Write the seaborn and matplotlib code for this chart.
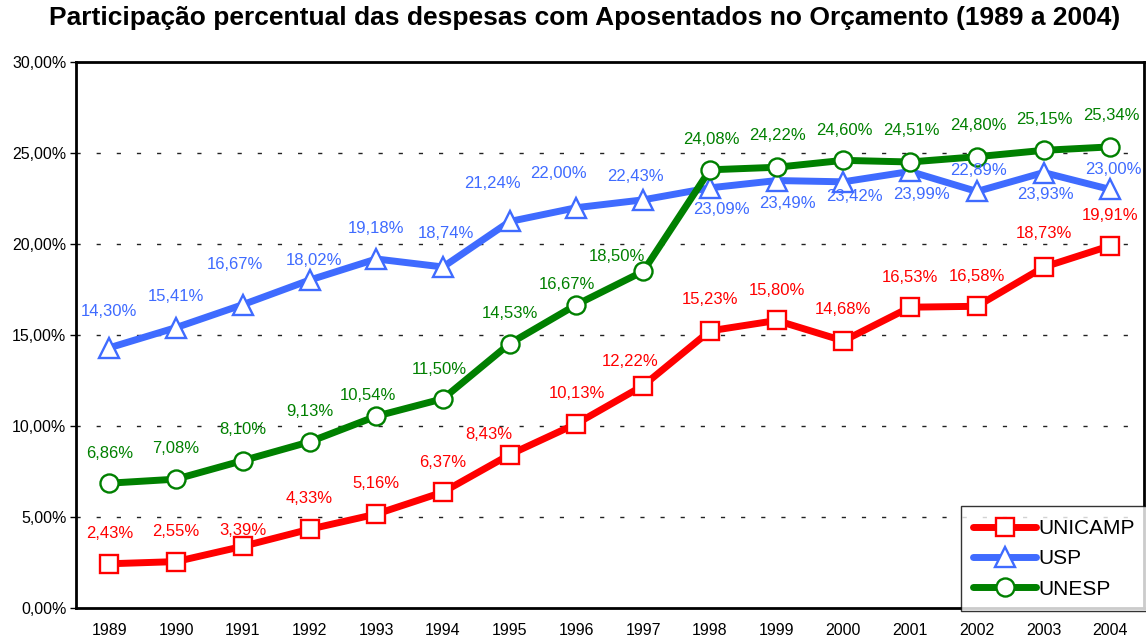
import numpy as np
import pandas as pd
import matplotlib
matplotlib.use("Agg")
import matplotlib.pyplot as plt
import seaborn as sns

years = ["1989", "1990", "1991", "1992", "1993", "1994", "1995", "1996",
         "1997", "1998", "1999", "2000", "2001", "2002", "2003", "2004"]
unicamp = [2.43, 2.55, 3.39, 4.33, 5.16, 6.37, 8.43, 10.13, 12.22, 15.23,
           15.80, 14.68, 16.53, 16.58, 18.73, 19.91]
usp = [14.30, 15.41, 16.67, 18.02, 19.18, 18.74, 21.24, 22.00, 22.43, 23.09,
       23.49, 23.42, 23.99, 22.89, 23.93, 23.00]
unesp = [6.86, 7.08, 8.10, 9.13, 10.54, 11.50, 14.53, 16.67, 18.50, 24.08,
         24.22, 24.60, 24.51, 24.80, 25.15, 25.34]

# label offsets from the point, in pixels (dx, dy up)
unicamp_off = [(0, 30), (0, 30), (0, 16), (0, 31), (0, 31), (0, 30), (-21, 20),
               (0, 30), (-13, 24), (0, 31), (0, 30), (0, 31), (0, 30), (0, 30),
               (0, 34), (0, 30)]
usp_off = [(0, 36), (0, 31), (-8, 40), (4, 20), (0, 30), (3, 33), (-17, 38),
           (-18, 34), (-8, 23), (11, -22), (11, -23), (11, -15), (11, -23),
           (2, 21), (2, -22), (3, 20)]
unesp_off = [(0, 30), (0, 31), (0, 31), (0, 30), (-8, 21), (-4, 29), (0, 30),
             (-10, 20), (-26, 15), (1, 30), (1, 32), (1, 30), (1, 31), (1, 31),
             (1, 31), (1, 31)]

sns.set_style("white")
plt.rcParams['font.family'] = ['Liberation Sans', 'DejaVu Sans']
plt.rcParams['text.color'] = 'black'
plt.rcParams['xtick.color'] = 'black'
plt.rcParams['ytick.color'] = 'black'

df = pd.DataFrame({"pos": np.arange(len(years)), "UNICAMP": unicamp,
                   "USP": usp, "UNESP": unesp})

fig = plt.figure(figsize=(11.46, 6.4), dpi=100)
ax = fig.add_axes([0.0663, 0.05, 0.9317, 0.853])

series = [("UNICAMP", "#FF0000", "s", 13), ("USP", "#3F6BFF", "^", 14),
          ("UNESP", "#008000", "o", 13)]
for name, color, marker, ms in series:
    sns.lineplot(data=df, x="pos", y=name, ax=ax, color=color, linewidth=5,
                 marker=marker, markersize=ms, markerfacecolor="white",
                 markeredgecolor=color, markeredgewidth=1.7, label=name)

fmt = lambda v: f"{v:.2f}".replace(".", ",") + "%"
lab_fs = 12
for vals, offs, color in [(unicamp, unicamp_off, "#FF0000"),
                          (usp, usp_off, "#3F6BFF"),
                          (unesp, unesp_off, "#008000")]:
    for i, (v, (dx, dy)) in enumerate(zip(vals, offs)):
        ax.annotate(fmt(v), (i, v), xytext=(dx, dy), textcoords="offset pixels",
                    ha="center", va="center", color=color, fontsize=lab_fs,
                    zorder=4)

ax.set_xlim(-0.5, len(years) - 0.5)
ax.set_ylim(0, 30)
yt = np.arange(0, 31, 5)
ax.set_yticks(yt)
ax.set_yticklabels([f"{t:.2f}".replace(".", ",") + "%" for t in yt], fontsize=11.5)
ax.set_xticks(np.arange(len(years)))
ax.set_xticklabels(years, fontsize=11.5)
ax.set_xticks(np.arange(len(years) + 1) - 0.5, minor=True)
ax.tick_params(axis="x", which="major", length=0, pad=11)
ax.tick_params(axis="x", which="minor", length=4, width=1, direction="out")
ax.tick_params(axis="y", length=4, width=1, direction="out", left=True, pad=3)
ax.set_xlabel("")
ax.set_ylabel("")

for t in yt[1:-1]:
    ax.axhline(t, color="#222222", linestyle=(0, (3, 11.5)), linewidth=1, zorder=0)

for s in ax.spines.values():
    s.set_color("black")
    s.set_linewidth(2)

handles, labels = ax.get_legend_handles_labels()
leg = ax.legend(handles, labels, loc="lower right", bbox_to_anchor=(1.003, -0.006),
                fontsize=15, frameon=True, fancybox=False, edgecolor="black",
                handlelength=3.0, handletextpad=0.1, borderpad=0.6,
                labelspacing=0.55, borderaxespad=0)
leg.get_frame().set_linewidth(1)
leg.set_zorder(5)

fig.suptitle("Participação percentual das despesas com Aposentados no Orçamento (1989 a 2004)",
             fontsize=19, fontweight="bold", x=0.51, y=0.99)

fig.savefig("out.png", dpi=100)
